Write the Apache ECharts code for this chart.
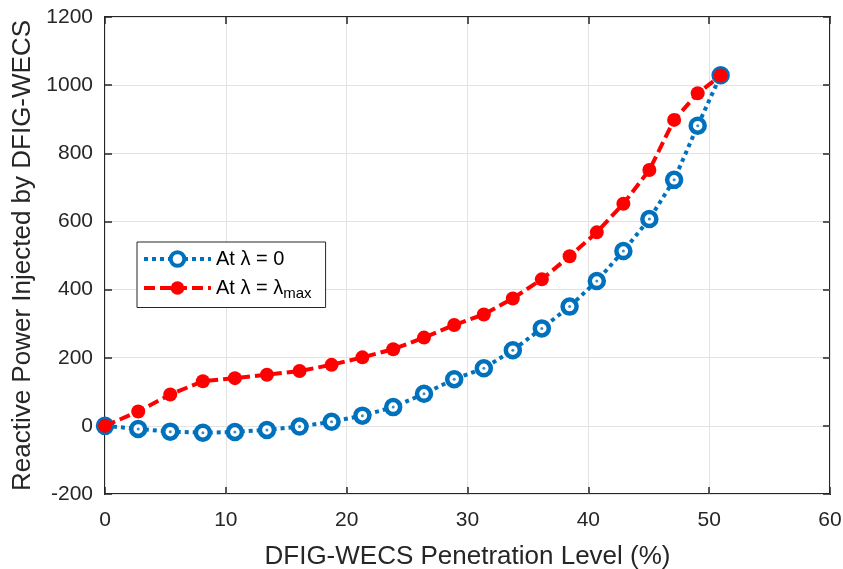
<!DOCTYPE html>
<html>
<head>
<meta charset="utf-8">
<script src="https://cdn.jsdelivr.net/npm/echarts@6/dist/echarts.min.js"></script>
<style>
  html, body { margin: 0; padding: 0; background: #fff; }
  #chart { width: 843px; height: 569px; }
</style>
</head>
<body>
<div id="chart"></div>
<script>
// penetration level (%)
const penetration = [0, 2.75, 5.4, 8.1, 10.75, 13.4, 16.1, 18.75, 21.3, 23.85, 26.4, 28.9, 31.35, 33.75, 36.15, 38.45, 40.7, 42.9, 45.05, 47.1, 49.05, 50.95]
// reactive power at lambda = 0
const qLambda0 = [0, -9, -17, -20, -18, -12, -2, 12, 30, 55, 94, 137, 169, 222, 286, 350, 425, 513, 607, 722, 881, 1029]
// reactive power at lambda = lambda max
const qLambdaMax = [0, 42, 92, 131, 140, 150, 161, 179, 201, 225, 259, 296, 327, 374, 430, 498, 568, 652, 751, 898, 976, 1028]

const xTicks = [0, 60, 10]
const yTicks = [-200, 1200, 200]

const font = 'Liberation Sans, Arial, Helvetica, sans-serif'
const txt = '#262626'
const blue = '#0072BD'
const red = '#FF0000'

function pairs(xs, ys) {
    return xs.map((x, i) => [x, ys[i]])
}

const chart = echarts.init(document.getElementById('chart'))

const tickStyle = { inside: true, length: 7, lineStyle: { color: txt, width: 1.5 } }

const option = {
    animation: false,
    grid: {
        left: 105, right: 13, top: 17, bottom: 75,
        outerBoundsMode: 'none',
        containLabel: false,
        show: true, borderColor: txt, borderWidth: 2
    },
    legend: {
        data: [
            { name: 'At λ = 0', itemStyle: { color: '#fff', borderColor: blue, borderWidth: 4 }, lineStyle: { color: blue, width: 4, type: [4, 4] } },
            { name: 'At λ = λmax', itemStyle: { color: red }, lineStyle: { color: red, width: 4, type: [11, 5] } }
        ],
        orient: 'vertical',
        left: 137, top: 242,
        padding: [7, 14, 6, 5],
        itemGap: 9,
        itemWidth: 67,
        itemHeight: 17,
        backgroundColor: '#fff',
        borderColor: txt,
        borderWidth: 1,
        borderRadius: 0,
        textStyle: {
            fontFamily: font, fontSize: 20, color: '#000',
            rich: {
                n: { fontFamily: font, fontSize: 20, color: '#000' },
                sub: { fontFamily: font, fontSize: 15, color: '#000', padding: [12, 0, 0, 0] }
            }
        },
        formatter: function (name) {
            if (name === 'At λ = λmax') return '{n|At λ = λ}{sub|max}'
            return '{n|' + name + '}'
        }
    },
    xAxis: [{
        type: 'value',
        min: xTicks[0], max: xTicks[1], interval: xTicks[2],
        name: 'DFIG-WECS Penetration Level (%)',
        nameLocation: 'middle',
        nameGap: 50,
        nameTextStyle: { fontFamily: font, fontSize: 26, color: txt },
        axisLine: { show: false, onZero: false },
        axisTick: tickStyle,
        axisLabel: { fontFamily: font, fontSize: 21, color: txt, margin: 16 },
        splitLine: { lineStyle: { color: '#e3e3e3', width: 1 } }
    }, {
        type: 'value', position: 'top',
        min: xTicks[0], max: xTicks[1], interval: xTicks[2],
        axisLine: { show: false, onZero: false },
        axisTick: tickStyle,
        axisLabel: { show: false },
        splitLine: { show: false }
    }],
    yAxis: [{
        type: 'value',
        min: yTicks[0], max: yTicks[1], interval: yTicks[2],
        name: 'Reactive Power Injected by DFIG-WECS',
        nameLocation: 'middle',
        nameGap: 60,
        nameTextStyle: { fontFamily: font, fontSize: 26, color: txt },
        axisLine: { show: false, onZero: false },
        axisTick: tickStyle,
        axisLabel: { fontFamily: font, fontSize: 21, color: txt, margin: 12, formatter: v => String(v) },
        splitLine: { lineStyle: { color: '#e3e3e3', width: 1 } }
    }, {
        type: 'value', position: 'right',
        min: yTicks[0], max: yTicks[1], interval: yTicks[2],
        axisLine: { show: false, onZero: false },
        axisTick: tickStyle,
        axisLabel: { show: false },
        splitLine: { show: false }
    }],
    series: [
        {
            name: 'At λ = 0',
            type: 'line',
            data: pairs(penetration, qLambda0),
            symbol: 'circle',
            symbolSize: 14,
            z: 2,
            lineStyle: { color: blue, width: 4, type: [4, 4], cap: 'butt' },
            itemStyle: { color: '#fff', borderColor: blue, borderWidth: 4.5 }
        },
        {
            // small centre dots of the ring markers
            name: 'dots',
            type: 'scatter',
            data: pairs(penetration, qLambda0),
            symbolSize: 3,
            z: 3,
            silent: true,
            itemStyle: { color: blue }
        },
        {
            name: 'At λ = λmax',
            type: 'line',
            data: pairs(penetration, qLambdaMax),
            symbol: 'circle',
            symbolSize: 14,
            z: 4,
            lineStyle: { color: red, width: 4, type: [11, 5], cap: 'butt' },
            itemStyle: { color: red }
        }
    ]
}

chart.setOption(option)
</script>
</body>
</html>
